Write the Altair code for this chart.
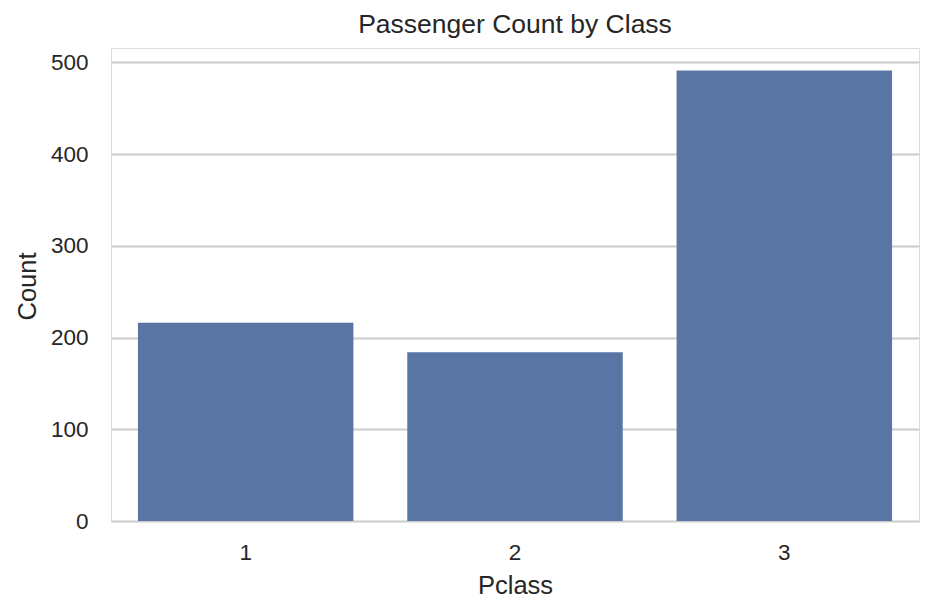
import altair as alt
import pandas as pd

pclass = ["1", "2", "3"]
counts = [216, 184, 491]

df = pd.DataFrame({"Pclass": pclass, "Count": counts})

FONT = "Liberation Sans, Arial, sans-serif"
TXT = "#262626"
GRID = "#cccccc"

chart = alt.Chart(df).mark_bar(color="#5975a4").encode(
    x=alt.X(
        "Pclass:N",
        sort=pclass,
        scale=alt.Scale(paddingInner=0.2, paddingOuter=0.1),
        axis=alt.Axis(
            title="Pclass", labelAngle=0, ticks=False, tickSize=0, domain=False, grid=False,
            labelFontSize=22.5, labelColor=TXT, labelFont=FONT, labelPadding=20,
            titleFontSize=25.5, titleColor=TXT, titleFont=FONT, titleFontWeight="normal",
            titleBaseline="alphabetic", titleY=72,
        ),
    ),
    y=alt.Y(
        "Count:Q",
        scale=alt.Scale(domain=[0, 515.55], nice=False, zero=True),
        axis=alt.Axis(
            title="Count", values=[0, 100, 200, 300, 400, 500], ticks=False, tickSize=0,
            domain=False, grid=True, gridColor=GRID, gridWidth=2,
            labelFontSize=22.5, labelColor=TXT, labelFont=FONT, labelPadding=23,
            titleFontSize=25.5, titleColor=TXT, titleFont=FONT, titleFontWeight="normal",
            titleAngle=270, titleBaseline="alphabetic", titleAlign="center",
            titleX=-76, titleY=238,
        ),
    ),
).properties(
    width=808,
    height=473,
    title=alt.TitleParams(
        "Passenger Count by Class", fontSize=26.5, font=FONT, color=TXT,
        fontWeight="normal", anchor="middle", offset=10,
    ),
    autosize=alt.AutoSizeParams(type="none"),
    padding={"left": 103, "top": 40, "right": 7, "bottom": 85},
).configure_view(
    stroke=GRID, strokeWidth=2.5
).configure(background="white")

chart.save("out.html", embed_options={"renderer": "svg", "actions": False})
